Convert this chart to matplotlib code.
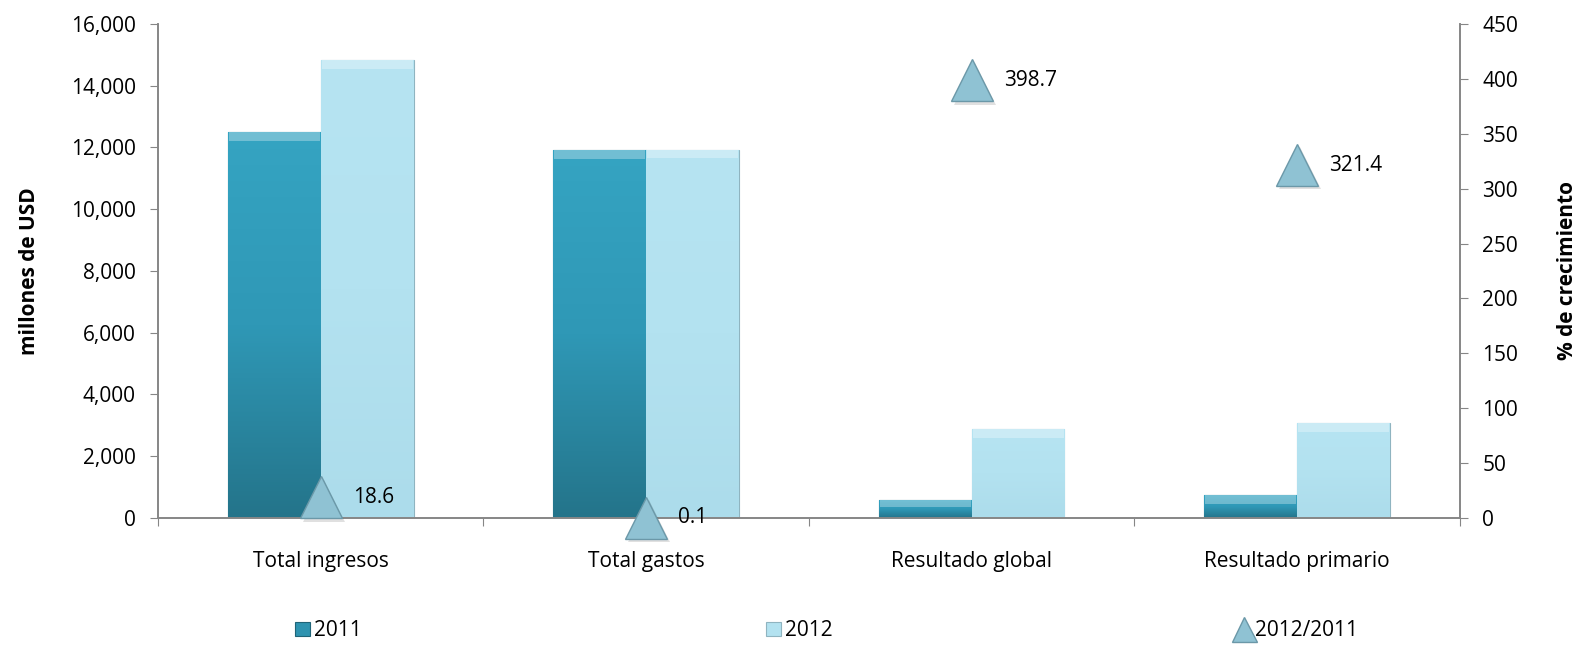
import numpy as np
import matplotlib
matplotlib.use("Agg")
import matplotlib.pyplot as plt
from matplotlib.ticker import FuncFormatter, FixedLocator
from matplotlib.colors import LinearSegmentedColormap

# data
categories = ["Total ingresos", "Total gastos", "Resultado global", "Resultado primario"]
values_2011 = [12500, 11920, 578, 730]
values_2012 = [14830, 11930, 2882, 3076]
growth = [18.6, 0.1, 398.7, 321.4]
growth_labels = ["18.6", "0.1", "398.7", "321.4"]

plt.rcParams["font.family"] = ["Open Sans", "DejaVu Sans"]
axis_grey = "#868686"
fs = 15

fig = plt.figure(figsize=(15.8, 6.49), dpi=100)
ax = fig.add_axes([0.1, 0.202, 0.824, 0.761])
ax2 = ax.twinx()

x = np.arange(len(categories))
w = 0.285

dark = ax.bar(x - w / 2, values_2011, w, color="#2e93b0", edgecolor="#1f6478",
              linewidth=0.8, label="2011", zorder=2)
light = ax.bar(x + w / 2, values_2012, w, color="#b3e2f0", edgecolor="#8fb4c0",
               linewidth=0.8, label="2012", zorder=2)

# soft vertical gradient on the bars
grad = np.linspace(0, 1, 256).reshape(-1, 1)
cmap_dark = LinearSegmentedColormap.from_list("d", ["#24748a", "#2f98b6", "#35a4c2"])
cmap_light = LinearSegmentedColormap.from_list("l", ["#acdceb", "#b3e2f0", "#b6e4f2"])
for bars, cm in [(dark, cmap_dark), (light, cmap_light)]:
    for b in bars:
        x0, y0 = b.get_x(), b.get_y()
        bw, bh = b.get_width(), b.get_height()
        im = ax.imshow(grad, cmap=cm, aspect="auto", origin="lower",
                       extent=[x0, x0 + bw, y0, y0 + bh], zorder=2.1)
        im.set_clip_path(b)
        # thin top bevel highlight
        hh = min(bh * 0.4, 280)
        ax.bar(x0 + bw / 2, hh, bw * 0.98, bottom=y0 + bh - hh,
               color="white", alpha=0.3, linewidth=0, zorder=2.2)

ax.set_xlim(-0.5, 3.5)
ax.set_ylim(0, 16000)
ax.set_yticks(np.arange(0, 16001, 2000))
ax.yaxis.set_major_formatter(FuncFormatter(lambda v, p: f"{v:,.0f}"))

ax.xaxis.set_major_locator(FixedLocator([-0.5, 0.5, 1.5, 2.5, 3.5]))
ax.xaxis.set_minor_locator(FixedLocator(x))
ax.set_xticklabels([], minor=False)
ax.set_xticklabels(categories, minor=True)
ax.tick_params(axis="x", which="minor", length=0, pad=24, labelsize=fs)
ax.tick_params(axis="x", which="major", length=6, color=axis_grey)
ax.tick_params(axis="y", length=6, color=axis_grey, labelsize=fs, pad=10)

ax2.set_ylim(0, 450)
ax2.set_yticks(np.arange(0, 451, 50))
ax2.tick_params(axis="y", length=6, color=axis_grey, labelsize=fs, pad=10)

for a in (ax, ax2):
    a.spines["top"].set_visible(False)
    for s in ("left", "right", "bottom"):
        a.spines[s].set_color(axis_grey)
        a.spines[s].set_linewidth(1.2)
    a.set_xlim(-0.5, 3.5)

ax.set_ylabel("millones de USD", fontsize=fs, fontweight="bold", labelpad=22)
ax2.set_ylabel("% de crecimiento", fontsize=fs, fontweight="bold", labelpad=28)

# growth markers with shadow
ax2.plot(x + 0.01, np.array(growth) - 3, linestyle="none", marker="^", markersize=30,
         color="#000000", alpha=0.12, markeredgewidth=0, zorder=3, clip_on=False)
tri, = ax2.plot(x, growth, linestyle="none", marker="^", markersize=30,
                markerfacecolor="#8fc2d3", markeredgecolor="#6b98a8",
                markeredgewidth=1.0, label="2012/2011", zorder=4, clip_on=False)
for xi, g, lab in zip(x, growth, growth_labels):
    ax2.annotate(lab, (xi, g), xytext=(23, 0), textcoords="offset points",
                 ha="left", va="center", fontsize=fs, zorder=5)

fig.legend(handles=[dark, light, tri], loc="lower left",
           bbox_to_anchor=(0.175, -0.017), ncol=3, frameon=False, fontsize=fs,
           handlelength=0.7, handletextpad=0.2, columnspacing=19.4,
           markerscale=0.6)

fig.savefig("out.png", dpi=100)
